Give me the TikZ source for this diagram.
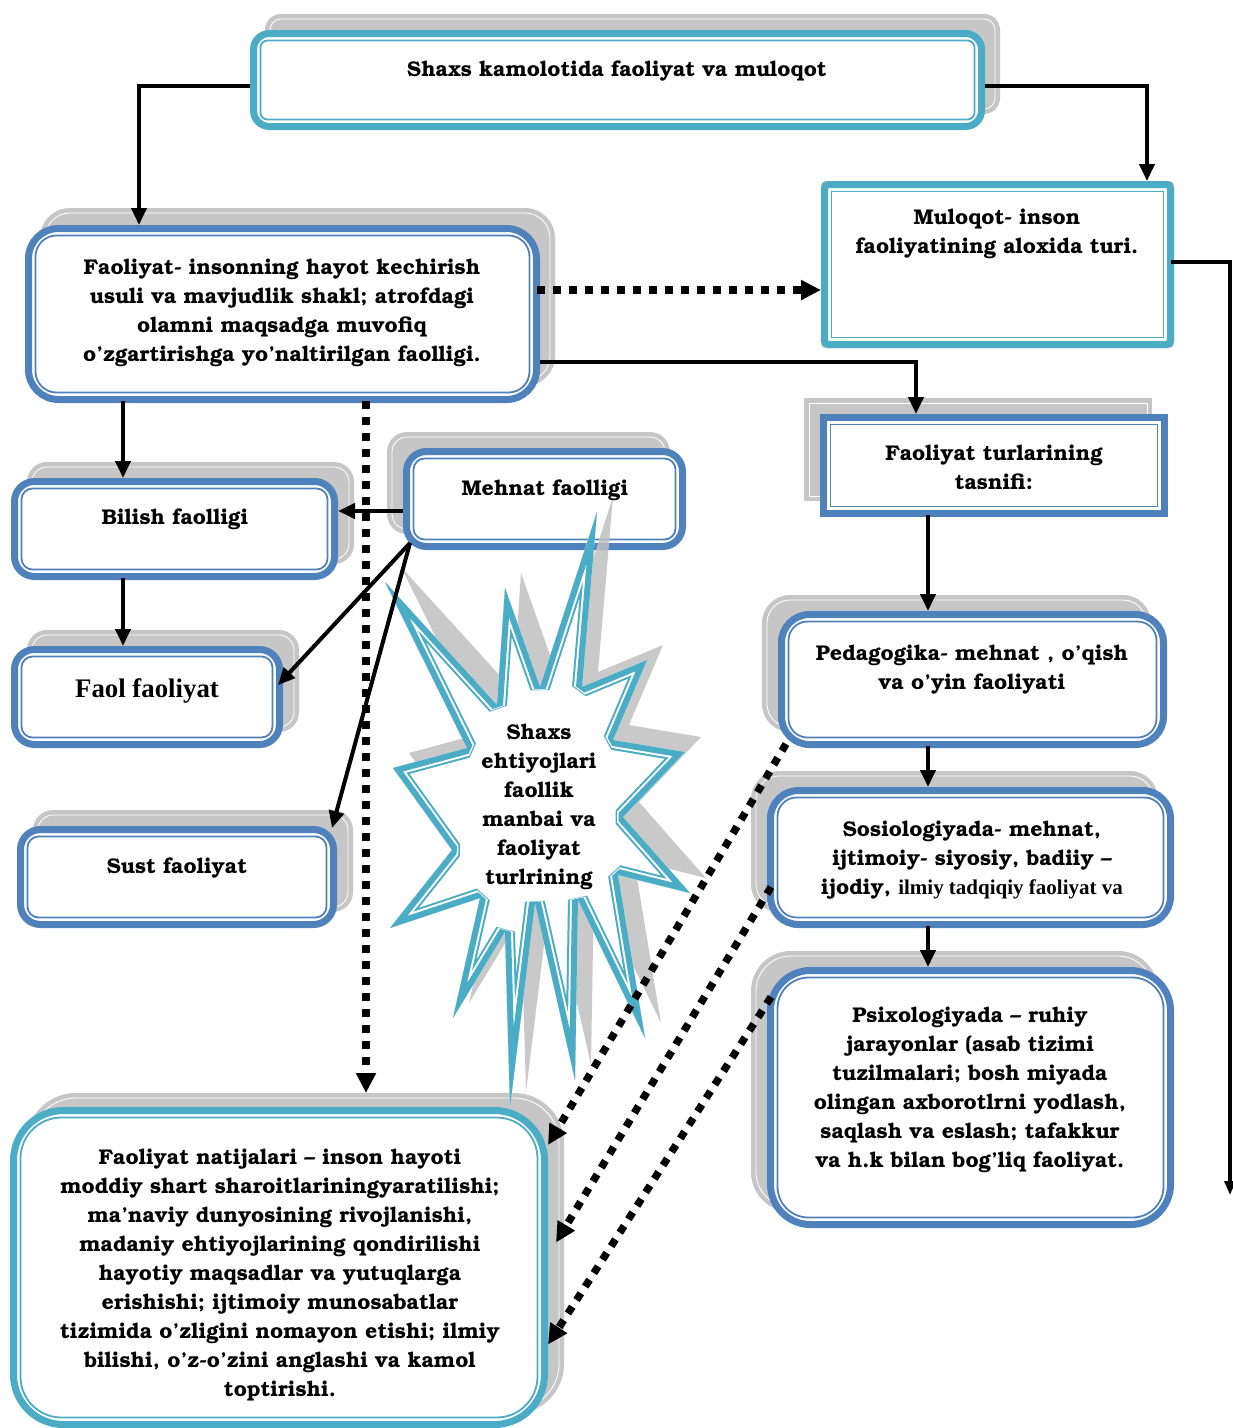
\documentclass[tikz,border=0pt]{standalone}
\usepackage[T1]{fontenc}
\usepackage{fontspec}
\newfontfamily\tms{Liberation Serif}
\usetikzlibrary{arrows.meta,calc}
\definecolor{tealc}{RGB}{75,172,198}
\definecolor{bluec}{RGB}{79,129,189}
\definecolor{shc}{RGB}{192,192,192}
\newcommand\bk{\fontencoding{T1}\fontfamily{pbk}\fontseries{b}\fontshape{n}\fontsize{21.3}{29}\selectfont}
\newcommand\dbox[9]{%
  \fill[shc, opacity=.9, rounded corners=#7] ({#2+#8},{#3+#9}) rectangle ({#4+#8},{#5+#9});
  \draw[white, line width=0.8, rounded corners={max(#7-5,0)}] ({#2+#8+5},{#3+#9+5}) rectangle ({#4+#8-5},{#5+#9-5});
  \node[draw=#6, line width=7, fill=white, rounded corners=#7, inner sep=0, outer sep=3.5,
        minimum width={#4-#2-7}, minimum height={#5-#3-7}] (#1) at ({(#2+#4)/2},{(#3+#5)/2}) {};
  \draw[#6, line width=1.8, rounded corners={max(#7-9,0)}] ({#2+10.5},{#3+10.5}) rectangle ({#4-10.5},{#5-10.5});
}
\newcommand\starshape[1]{\path[#1] (385,582) -- (497,705) -- (505,588) -- (540,687) -- (597,512) -- (582,687) -- (647,660) -- (613,740) -- (685,752) -- (623,817) -- (690,893) -- (618,875) -- (645,1038) -- (578,900) -- (575,1080) -- (535,903) -- (510,1107) -- (505,932) -- (453,1018) -- (480,898) -- (390,928) -- (452,850) -- (393,768) -- (467,748) -- cycle;}
\tikzset{
  txt/.style={align=center, inner sep=0, font=\bk},
  conn/.style={line width=4, -{Triangle[length=17pt,width=15pt]}},
  thinconn/.style={line width=3.5, -{Triangle[length=14pt,width=11pt]}},
  dotc/.style={line width=7.5, dash pattern=on 8pt off 8pt, -{Triangle[length=20pt,width=19pt]}},
}
\begin{document}
\begin{tikzpicture}[x=1pt,y=-1pt]
\useasboundingbox (0,0) rectangle (1233,1428);
\fill[white] (0,0) rectangle (1233,1428);
% boxes
\dbox{top}{250}{30}{985}{130}{tealc}{16}{15}{-16}
\dbox{fa}{25}{225}{540}{403}{bluec}{30}{15}{-17}
\dbox{mul}{821}{181}{1174}{348}{tealc}{4}{0}{0}
\dbox{tas}{820}{414}{1168}{517}{bluec}{0}{-16}{-16}
\dbox{bil}{11}{478}{338}{580}{bluec}{20}{16}{-16}
\dbox{faolf}{11}{646}{283}{748}{bluec}{20}{16}{-16}
\dbox{sust}{17}{826}{337}{928}{bluec}{20}{16}{-16}
\dbox{meh}{403}{448}{686}{550}{bluec}{20}{-16}{-16}
\dbox{ped}{778}{611}{1167}{748}{bluec}{28}{-16}{-16}
\dbox{sos}{767}{787}{1174}{928}{bluec}{28}{-16}{-16}
\dbox{psx}{767}{967}{1174}{1228}{bluec}{40}{-16}{-16}
\dbox{nat}{10}{1107}{548}{1428}{tealc}{50}{16}{-14}
% star
\starshape{fill=shc, opacity=.85, shift={(16,-15)}}
\starshape{fill=white}
\begin{scope}
  \starshape{clip}
  \starshape{draw=tealc, line width=20, line join=bevel}
  \starshape{draw=white, line width=16, line join=bevel}
  \starshape{draw=tealc, line width=12, line join=bevel}
\end{scope}
% texts
\node[txt] (ttop) at (617,71) {Shaxs kamolotida faoliyat va muloqot};
\node[txt] (tfa) at (282,313) {Faoliyat- insonning hayot kechirish\\usuli va mavjudlik shakl; atrofdagi\\olamni maqsadga muvofiq\\o'zgartirishga yo'naltirilgan faolligi.};
\node[txt] (tmul) at (997,233.5) {Muloqot- inson\\faoliyatining aloxida turi.};
\node[txt] (ttas) at (994,467.5) {Faoliyat turlarining\\tasnifi:};
\node[txt] (tbil) at (175,519) {Bilish faolligi};
\node[txt, font={\tms\bfseries\fontsize{26.8}{29}\selectfont}] (tfaol) at (147,691) {Faol faoliyat};
\node[txt] (tsust) at (177,868) {Sust faoliyat};
\node[txt] (tmeh) at (545,490) {Mehnat faolligi};
\node[txt] (tped) at (972,669.5) {Pedagogika- mehnat , o'qish\\va o'yin faoliyati};
\node[txt] (tsos) at (972,860) {Sosiologiyada- mehnat,\\ijtimoiy- siyosiy, badiiy --\\ijodiy, {\tms\bfseries\fontsize{21}{29}\selectfont ilmiy tadqiqiy faoliyat va}};
\node[txt] (tpsx) at (970,1090) {Psixologiyada -- ruhiy\\jarayonlar (asab tizimi\\tuzilmalari; bosh miyada\\olingan axborotlrni yodlash,\\saqlash va eslash; tafakkur\\va h.k bilan bog'liq faoliyat.};
\node[txt] (tnat) at (280,1275) {Faoliyat natijalari -- inson hayoti\\moddiy shart sharoitlariningyaratilishi;\\ma'naviy dunyosining rivojlanishi,\\madaniy ehtiyojlarining qondirilishi\\hayotiy maqsadlar va yutuqlarga\\erishishi; ijtimoiy munosabatlar\\tizimida o'zligini nomayon etishi; ilmiy\\bilishi, o'z-o'zini anglashi va kamol\\toptirishi.};
\node[txt] (tstar) at (539,807) {Shaxs\\ehtiyojlari\\faollik\\manbai va\\faoliyat\\turlrining};
% connectors
\coordinate (mend) at (1230,1195);
\draw[conn] ($(top.west)+(0,6)$) -| ($(fa.north west)+(114,0)$);
\draw[conn] ($(top.east)+(0,6)$) -| ($(mul.north west)+(326,0)$);
\draw[dotc] ($(fa.east)+(-3,-24)$) -- ($(mul.west)+(0,25.5)$);
\draw[conn] ($(fa.east)+(0,48)$) -| ($(tas.north west)+(96,0)$);
\draw[thinconn] ($(mul.east)+(-3,-2.5)$) -| (mend);
\draw[conn] ($(fa.south west)+(98,-2)$) -- ($(bil.north west)+(112,0)$);
\draw[dotc] ($(fa.south west)+(341,-2)$) -- ($(nat.north west)+(356,-14)$);
\draw[conn] ($(meh.west)+(0,12)$) -- ($(bil.east)+(0,-18)$);
\draw[conn] ($(meh.south west)+(7,-7)$) -- ($(faolf.east)+(-5,-12)$);
\draw[conn] ($(meh.south west)+(7,-7)$) -- ($(sust.north east)+(-5,2)$);
\draw[conn] ($(bil.south west)+(112,-2)$) -- ($(faolf.north west)+(112,0)$);
\draw[conn] ($(tas.south west)+(108,-2)$) -- ($(ped.north west)+(150,0)$);
\draw[conn] ($(ped.south west)+(150,-2)$) -- ($(sos.north west)+(161,0)$);
\draw[conn] ($(sos.south west)+(161,-2)$) -- ($(psx.north west)+(161,0)$);
\draw[dotc] ($(ped.south west)+(8,-4)$) -- ($(nat.north east)+(0,38)$);
\draw[dotc] ($(sos.west)+(4,29.5)$) -- ($(nat.east)+(8,-25)$);
\draw[dotc] ($(psx.north west)+(4,30)$) -- ($(nat.east)+(0,77)$);
\end{tikzpicture}
\end{document}
